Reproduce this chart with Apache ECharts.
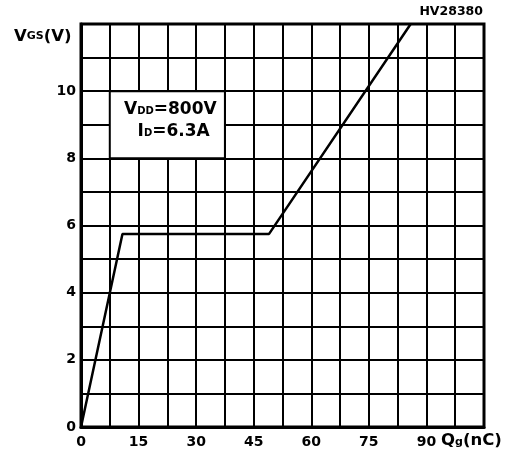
<!DOCTYPE html>
<html><head><meta charset="utf-8">
<script src="https://cdn.jsdelivr.net/npm/echarts@6/dist/echarts.min.js"></script>
<style>html,body{margin:0;padding:0;background:#fff}#c{width:515px;height:455px}</style>
</head><body><div id="c"></div>
<script>
// Gate charge curve: Qg (nC) vs VGS (V)
const qg  = [0, 10.8, 49.0, 85.9];
const vgs = [0, 5.75, 5.75, 12];
const xTickLabels = [0, 15, 30, 45, 60, 75, 90];
const yTickLabels = [0, 2, 4, 6, 8, 10];
const noteBox = [[7.5, 10], [37.5, 8]];

const FONT = 'DejaVu Sans';
const chart = echarts.init(document.getElementById('c'), null, {renderer: 'canvas'});
chart.setOption({
  animation: false,
  backgroundColor: '#fff',
  grid: {left: 81, right: 31, top: 24, bottom: 28, show: true, borderColor: '#000', borderWidth: 3, backgroundColor: 'transparent'},
  xAxis: {
    type: 'value', min: 0, max: 105, interval: 7.5,
    axisLine: {show: true, lineStyle: {color: '#000', width: 3}},
    axisTick: {show: false},
    splitLine: {show: true, lineStyle: {color: '#000', width: 2}},
    axisLabel: {
      color: '#000', fontFamily: FONT, fontWeight: 'bold', fontSize: 14, margin: 8,
      formatter: v => xTickLabels.includes(v) ? String(v) : ''
    }
  },
  yAxis: {
    type: 'value', min: 0, max: 12, interval: 1,
    axisLine: {show: true, lineStyle: {color: '#000', width: 3}},
    axisTick: {show: false},
    splitLine: {show: true, lineStyle: {color: '#000', width: 2}},
    axisLabel: {
      color: '#000', fontFamily: FONT, fontWeight: 'bold', fontSize: 14, margin: 5,
      formatter: v => yTickLabels.includes(v) ? String(v) : ''
    }
  },
  series: [{
    type: 'line',
    data: qg.map((q, i) => [q, vgs[i]]),
    showSymbol: false,
    lineStyle: {color: '#000', width: 2.5},
    clip: true,
    z: 5,
    markArea: {
      silent: true,
      itemStyle: {color: '#fff', borderColor: '#000', borderWidth: 2},
      label: {
        show: true, position: 'inside', align: 'center', verticalAlign: 'middle', offset: [3, -4],
        formatter: '{b|V}{s|DD}{b|=800V}\n  {b|I}{s|D}{b|=6.3A}',
        rich: {
          b: {fontFamily: FONT, fontWeight: 'bold', fontSize: 17, color: '#000', lineHeight: 22},
          s: {fontFamily: FONT, fontWeight: 'bold', fontSize: 10, color: '#000', verticalAlign: 'bottom', padding: [0, 0, 4, 0]}
        }
      },
      data: [[{coord: noteBox[0]}, {coord: noteBox[1]}]]
    }
  }],
  graphic: [
    {type: 'text', right: 32, top: 5, style: {text: 'HV28380', fill: '#000', font: 'bold 12.5px ' + FONT}},
    {type: 'text', left: 14, top: 28, style: {
      text: '{b|V}{s|GS}{b|(V)}',
      rich: {
        b: {fontFamily: FONT, fontWeight: 'bold', fontSize: 16.5, fill: '#000'},
        s: {fontFamily: FONT, fontWeight: 'bold', fontSize: 11, fill: '#000', verticalAlign: 'bottom', padding: [0, 0, 3, 0]}
      }
    }},
    {type: 'text', left: 441, top: 432, style: {
      text: '{b|Q}{s|g}{b|(nC)}',
      rich: {
        b: {fontFamily: FONT, fontWeight: 'bold', fontSize: 16.5, fill: '#000'},
        s: {fontFamily: FONT, fontWeight: 'bold', fontSize: 11, fill: '#000', verticalAlign: 'bottom', padding: [0, 0, 1, 0]}
      }
    }}
  ]
});
</script></body></html>
